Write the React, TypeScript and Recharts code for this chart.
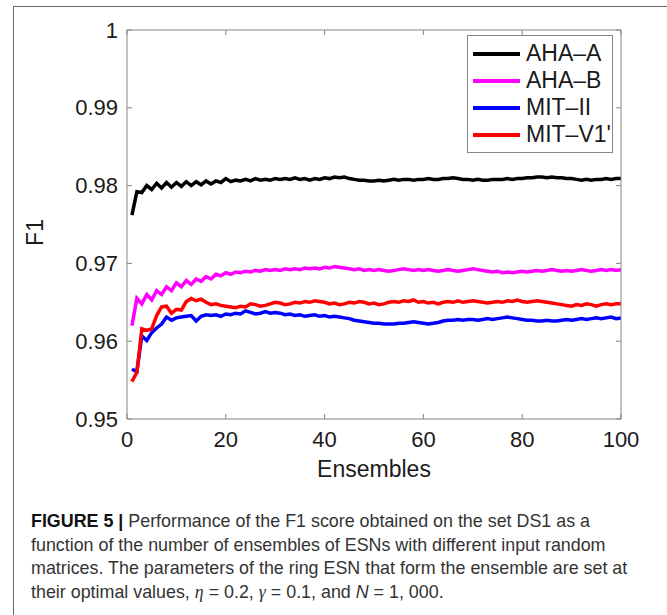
import { LineChart, Line, XAxis, YAxis, Legend, Label } from 'recharts';

// ensembles 1..100
const ensembles = Array.from({ length: 100 }, (_, i) => i + 1);

const ahaA = [
  0.9762, 0.9792, 0.9791, 0.9800, 0.9795, 0.9803, 0.9797, 0.9804, 0.9798, 0.9804,
  0.9799, 0.9805, 0.9800, 0.9805, 0.9801, 0.9806, 0.9802, 0.9806, 0.9804, 0.9809,
  0.9805, 0.9807, 0.9806, 0.9808, 0.9806, 0.9809, 0.9807, 0.9808, 0.9807, 0.9809,
  0.9808, 0.9809, 0.9808, 0.9810, 0.9808, 0.9809, 0.9807, 0.9809, 0.9808, 0.9810,
  0.9809, 0.9811, 0.9810, 0.9811, 0.9809, 0.9808, 0.9807, 0.9807, 0.9806, 0.9806,
  0.9807, 0.9806, 0.9807, 0.9808, 0.9807, 0.9808, 0.9808, 0.9807, 0.9808, 0.9808,
  0.9809, 0.9808, 0.9808, 0.9809, 0.9809, 0.9810, 0.9809, 0.9808, 0.9808, 0.9807,
  0.9808, 0.9807, 0.9807, 0.9808, 0.9808, 0.9808, 0.9809, 0.9808, 0.9809, 0.9809,
  0.9810, 0.9810, 0.9811, 0.9811, 0.9810, 0.9811, 0.9810, 0.9810, 0.9809, 0.9809,
  0.9808, 0.9807, 0.9808, 0.9807, 0.9808, 0.9808, 0.9809, 0.9808, 0.9809, 0.9809,
];

const ahaB = [
  0.9620, 0.9655, 0.9648, 0.9660, 0.9653, 0.9665, 0.9660, 0.9670, 0.9665, 0.9675,
  0.9670, 0.9678, 0.9673, 0.9680, 0.9677, 0.9683, 0.9680, 0.9686, 0.9684, 0.9688,
  0.9686, 0.9689, 0.9688, 0.9690, 0.9689, 0.9691, 0.9690, 0.9692, 0.9691, 0.9692,
  0.9691, 0.9693, 0.9692, 0.9693, 0.9692, 0.9694, 0.9693, 0.9694, 0.9693, 0.9695,
  0.9694, 0.9696, 0.9695, 0.9694, 0.9693, 0.9692, 0.9693, 0.9691, 0.9692, 0.9691,
  0.9692, 0.9691, 0.9690, 0.9691, 0.9692, 0.9693, 0.9692, 0.9691, 0.9692, 0.9691,
  0.9692, 0.9691, 0.9690, 0.9691, 0.9692, 0.9691, 0.9690, 0.9691, 0.9692, 0.9693,
  0.9692, 0.9691, 0.9690, 0.9689, 0.9690, 0.9688, 0.9689, 0.9688, 0.9689, 0.9690,
  0.9689, 0.9690, 0.9691, 0.9690, 0.9691, 0.9692, 0.9691, 0.9690, 0.9691, 0.9690,
  0.9691, 0.9692, 0.9691, 0.9690, 0.9691, 0.9692, 0.9691, 0.9692, 0.9691, 0.9692,
];

const mitII = [
  0.9564, 0.9561, 0.9607, 0.9601, 0.9611, 0.9617, 0.9622, 0.9631, 0.9627, 0.9630,
  0.9631, 0.9632, 0.9633, 0.9626, 0.9632, 0.9634, 0.9633, 0.9634, 0.9632, 0.9635,
  0.9634, 0.9636, 0.9635, 0.9639, 0.9637, 0.9635, 0.9636, 0.9638, 0.9636, 0.9637,
  0.9636, 0.9634, 0.9635, 0.9633, 0.9634, 0.9632, 0.9633, 0.9634, 0.9632, 0.9633,
  0.9631, 0.9632, 0.9631, 0.9630, 0.9629, 0.9627, 0.9626, 0.9625, 0.9624, 0.9623,
  0.9623, 0.9622, 0.9622, 0.9622, 0.9623, 0.9623, 0.9624, 0.9625, 0.9624, 0.9623,
  0.9622, 0.9623, 0.9624, 0.9626, 0.9627, 0.9627, 0.9628, 0.9627, 0.9628, 0.9628,
  0.9627, 0.9628, 0.9629, 0.9628, 0.9629, 0.9630, 0.9631, 0.9630, 0.9629, 0.9628,
  0.9627, 0.9627, 0.9626, 0.9626, 0.9627, 0.9626, 0.9626, 0.9627, 0.9628, 0.9627,
  0.9628, 0.9629, 0.9628, 0.9629, 0.9630, 0.9629, 0.9630, 0.9631, 0.9629, 0.9630,
];

const mitV1 = [
  0.9548, 0.9560, 0.9616, 0.9614, 0.9616, 0.9633, 0.9644, 0.9645, 0.9636, 0.9641,
  0.9640, 0.9651, 0.9655, 0.9652, 0.9654, 0.9650, 0.9647, 0.9648, 0.9646, 0.9645,
  0.9644, 0.9643, 0.9645, 0.9644, 0.9648, 0.9647, 0.9645, 0.9646, 0.9648, 0.9650,
  0.9649, 0.9647, 0.9648, 0.9650, 0.9649, 0.9651, 0.9650, 0.9652, 0.9651, 0.9650,
  0.9648, 0.9649, 0.9647, 0.9648, 0.9650, 0.9649, 0.9651, 0.9650, 0.9648, 0.9649,
  0.9647, 0.9648, 0.9650, 0.9651, 0.9650, 0.9652, 0.9651, 0.9653, 0.9650, 0.9651,
  0.9649, 0.9650, 0.9648, 0.9650, 0.9651, 0.9650, 0.9652, 0.9650, 0.9651, 0.9652,
  0.9651, 0.9650, 0.9649, 0.9650, 0.9651, 0.9650, 0.9652, 0.9651, 0.9653, 0.9651,
  0.9650, 0.9651, 0.9652, 0.9651, 0.9650, 0.9649, 0.9648, 0.9647, 0.9646, 0.9645,
  0.9647, 0.9646, 0.9648, 0.9647, 0.9645, 0.9647, 0.9648, 0.9647, 0.9648, 0.9648,
];

const xTicks = [0, 20, 40, 60, 80, 100];
const yTicks = [0.95, 0.96, 0.97, 0.98, 0.99, 1];

const series = [
  { key: 'ahaA', name: 'AHA–A', color: '#000000' },
  { key: 'ahaB', name: 'AHA–B', color: '#ff00ff' },
  { key: 'mitII', name: 'MIT–II', color: '#0000ff' },
  { key: 'mitV1', name: "MIT–V1'", color: '#ff0000' },
];

const data = ensembles.map((n, i) => ({
  n,
  ahaA: ahaA[i],
  ahaB: ahaB[i],
  mitII: mitII[i],
  mitV1: mitV1[i],
}));

const FONT = '"Liberation Sans", Arial, Helvetica, sans-serif';
const AXIS = '#858585';
const TICK = 5;
const GAP = 9;

const fmtY = (v: number) => (v === 1 ? '1' : v.toFixed(2));

function LeftTick(props: any) {
  const { x, y, payload } = props;
  const ax = x + GAP;
  return (
    <g>
      <line x1={ax} y1={y} x2={ax + TICK} y2={y} stroke={AXIS} />
      <text x={x} y={y} dy={7.5} textAnchor="end" fontSize={22} fontFamily={FONT} fill="#1a1a1a">
        {fmtY(payload.value)}
      </text>
    </g>
  );
}

function BottomTick(props: any) {
  const { x, y, payload } = props;
  const ay = y - 12;
  return (
    <g>
      <line x1={x} y1={ay} x2={x} y2={ay - TICK} stroke={AXIS} />
      <text x={x} y={y} dy={16} textAnchor="middle" fontSize={22} fontFamily={FONT} fill="#1a1a1a">
        {payload.value}
      </text>
    </g>
  );
}

function RightTick(props: any) {
  const { x, y } = props;
  return <line x1={x} y1={y} x2={x - TICK} y2={y} stroke={AXIS} />;
}

function TopTick(props: any) {
  const { x, y } = props;
  return <line x1={x} y1={y} x2={x} y2={y + TICK} stroke={AXIS} />;
}

function LegendBox() {
  return (
    <div
      style={{
        background: '#fff',
        border: `1px solid ${AXIS}`,
        padding: '4px 0',
        fontFamily: FONT,
        fontSize: 23,
        color: '#1a1a1a',
        width: 144,
        boxSizing: 'content-box',
      }}
    >
      {series.map((s) => (
        <div key={s.key} style={{ display: 'flex', alignItems: 'center', height: 27, whiteSpace: 'nowrap' }}>
          <div style={{ width: 47, height: 4, background: s.color, marginLeft: 5, marginRight: 6 }} />
          <span>{s.name}</span>
        </div>
      ))}
    </div>
  );
}

export default function App() {
  return (
    <div style={{ position: 'absolute', left: 0, top: 0, width: 667, height: 615, overflow: 'hidden', background: '#fff' }}>
      <div
        style={{
          position: 'absolute',
          left: 13,
          top: 6,
          width: 700,
          height: 700,
          borderLeft: '1.5px solid #666',
          borderTop: '1.5px solid #666',
        }}
      />
      <div style={{ position: 'absolute', left: 0, top: 0 }}>
        <LineChart
          width={667}
          height={615}
          data={data}
          margin={{ top: 29, right: 45, bottom: 166, left: 67 }}
        >
          <XAxis
            dataKey="n"
            type="number"
            domain={[0, 100]}
            ticks={xTicks}
            height={30}
            tickSize={0}
            tickMargin={12}
            stroke={AXIS}
            tick={(p: any) => <BottomTick {...p} />}
            allowDataOverflow
          >
            <Label
              content={({ viewBox }: any) => (
                <text
                  x={viewBox.x + viewBox.width / 2}
                  y={viewBox.y + 58}
                  textAnchor="middle"
                  fontSize={23}
                  fontFamily={FONT}
                  fill="#1a1a1a"
                >
                  Ensembles
                </text>
              )}
            />
          </XAxis>
          <XAxis
            xAxisId="top"
            orientation="top"
            dataKey="n"
            type="number"
            domain={[0, 100]}
            ticks={xTicks}
            height={1}
            tickSize={0}
            tickMargin={0}
            stroke={AXIS}
            tick={(p: any) => <TopTick {...p} />}
            allowDataOverflow
          />
          <YAxis
            type="number"
            domain={[0.95, 1]}
            ticks={yTicks}
            width={60}
            tickSize={0}
            tickMargin={GAP}
            stroke={AXIS}
            tick={(p: any) => <LeftTick {...p} />}
            allowDataOverflow
          >
            <Label
              content={({ viewBox }: any) => {
                const cx = 35;
                const cy = viewBox.y + viewBox.height / 2 + 8;
                return (
                  <text
                    x={cx}
                    y={cy}
                    transform={`rotate(-90, ${cx}, ${cy})`}
                    textAnchor="middle"
                    dy={8}
                    fontSize={23}
                    fontFamily={FONT}
                    fill="#1a1a1a"
                  >
                    F1
                  </text>
                );
              }}
            />
          </YAxis>
          <YAxis
            yAxisId="right"
            orientation="right"
            type="number"
            domain={[0.95, 1]}
            ticks={yTicks}
            width={1}
            tickSize={0}
            tickMargin={0}
            stroke={AXIS}
            tick={(p: any) => <RightTick {...p} />}
            allowDataOverflow
          />
          <Legend
            layout="vertical"
            align="center"
            verticalAlign="middle"
            content={() => <LegendBox />}
            wrapperStyle={{ position: 'absolute', left: 467, top: 35, width: 'auto' }}
          />
          {series.map((s) => (
            <Line
              key={s.key}
              type="linear"
              dataKey={s.key}
              name={s.name}
              stroke={s.color}
              strokeWidth={3.5}
              dot={false}
              isAnimationActive={false}
            />
          ))}
        </LineChart>
      </div>
      <div
        style={{
          position: 'absolute',
          left: 31,
          top: 509,
          width: 680,
          whiteSpace: 'nowrap',
          transform: 'scaleX(0.94)',
          transformOrigin: 'left top',
          fontFamily: '"Liberation Sans", Arial, sans-serif',
          fontSize: 19,
          lineHeight: '23.5px',
          color: '#333',
        }}
      >
        <b style={{ color: '#111' }}>FIGURE 5 |</b> Performance of the F1 score obtained on the set DS1 as a
        <br />
        function of the number of ensembles of ESNs with different input random
        <br />
        matrices. The parameters of the ring ESN that form the ensemble are set at
        <br />
        their optimal values, <i style={{ fontFamily: '"Liberation Serif", serif' }}>η</i> = 0.2,{' '}
        <i style={{ fontFamily: '"Liberation Serif", serif' }}>γ</i> = 0.1, and{' '}
        <i>N</i> = 1, 000.
      </div>
    </div>
  );
}
